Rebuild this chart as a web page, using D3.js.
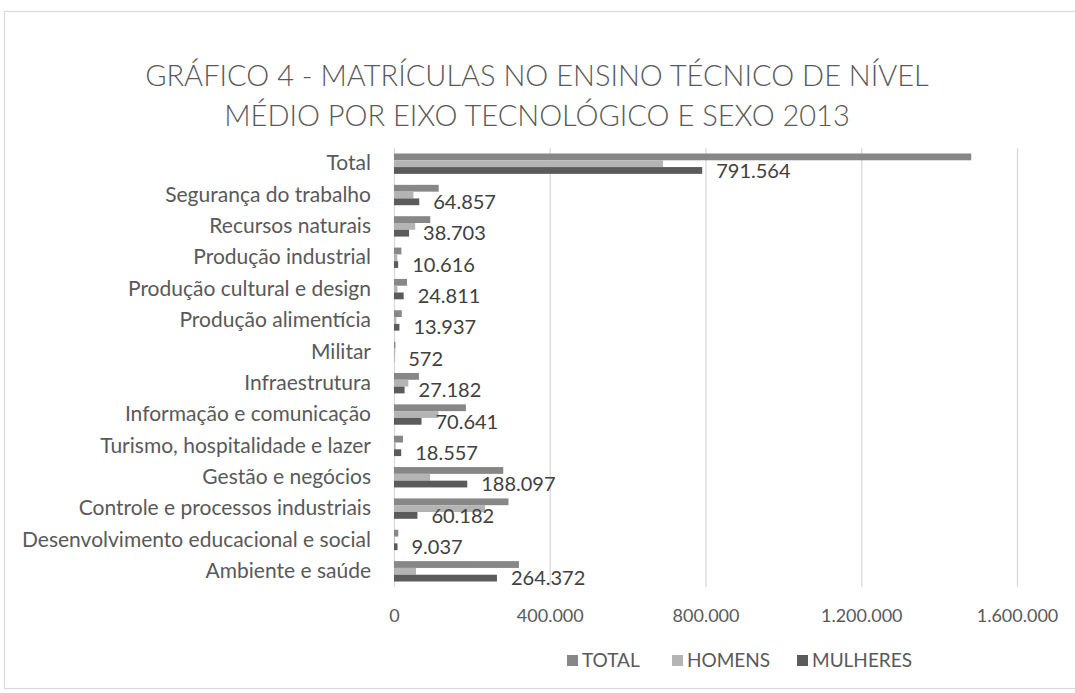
<!DOCTYPE html>
<html>
<head>
<meta charset="utf-8">
<script src="https://cdn.jsdelivr.net/npm/d3@7"></script>
<style>
  html, body { margin: 0; padding: 0; background: #ffffff; }
  svg { display: block; }
  text { font-family: Lato, "Open Sans", sans-serif; }
</style>
</head>
<body>
<svg id="chart" width="1075" height="693"></svg>
<script>
// ---- data ----
const categories = [
  "Total",
  "Segurança do trabalho",
  "Recursos naturais",
  "Produção industrial",
  "Produção cultural e design",
  "Produção alimentícia",
  "Militar",
  "Infraestrutura",
  "Informação e comunicação",
  "Turismo, hospitalidade e lazer",
  "Gestão e negócios",
  "Controle e processos industriais",
  "Desenvolvimento educacional e social",
  "Ambiente e saúde"
];
const totalValues   = [1482364, 114857, 93103, 19016, 33511, 19937, 3572, 63982, 184641, 23057, 280597, 293982, 11037, 320872];
const homensValues  = [690800, 50000, 54400, 8400, 8700, 6000, 3000, 36800, 114000, 4500, 92500, 233800, 2000, 56500];
const mulheresValues = [791564, 64857, 38703, 10616, 24811, 13937, 572, 27182, 70641, 18557, 188097, 60182, 9037, 264372];
const seriesNames = ["TOTAL", "HOMENS", "MULHERES"];
const xTicks = [0, 400000, 800000, 1200000, 1600000];
const titleLines = [
  "GRÁFICO 4 - MATRÍCULAS NO ENSINO TÉCNICO DE NÍVEL",
  "MÉDIO POR EIXO TECNOLÓGICO E SEXO 2013"
];

const colors = { TOTAL: "#878787", HOMENS: "#b4b4b4", MULHERES: "#5b5b5b" };
const seriesData = { TOTAL: totalValues, HOMENS: homensValues, MULHERES: mulheresValues };

const svg = d3.select("#chart");
const fmt = d3.formatLocale({ decimal: ",", thousands: ".", grouping: [3], currency: ["R$", ""] }).format(",d");

// chart border
svg.append("rect")
  .attr("x", 4.5).attr("y", 11.5)
  .attr("width", 1090).attr("height", 677)
  .attr("fill", "#fff").attr("stroke", "#d9d9d9").attr("stroke-width", 1.2);

// title
svg.append("g").selectAll("text").data(titleLines).join("text")
  .attr("x", 537)
  .attr("y", (d, i) => 86 + i * 40)
  .attr("text-anchor", "middle")
  .attr("fill", "#595959")
  .attr("font-size", 29)
  .attr("font-weight", 300)
  .text(d => d);

// scales
const x = d3.scaleLinear().domain([0, 1600000]).range([394, 1017]);
const y = d3.scaleBand().domain(categories).range([148, 587]).paddingInner(0.35).paddingOuter(0.175);
const ySub = d3.scaleBand().domain(seriesNames).range([0, y.bandwidth()]);

// gridlines
svg.append("g")
  .attr("transform", "translate(0,587)")
  .call(d3.axisBottom(x).tickValues(xTicks).tickSize(-(587 - 148)).tickFormat(""))
  .call(g => g.select(".domain").remove())
  .call(g => g.selectAll("line").attr("stroke", "#d9d9d9").attr("stroke-width", 1.3));

// tick labels
svg.append("g")
  .attr("transform", "translate(0,587)")
  .call(d3.axisBottom(x).tickValues(xTicks).tickSize(0).tickPadding(22).tickFormat(d => fmt(d)))
  .call(g => g.select(".domain").remove())
  .call(g => g.selectAll("text").attr("fill", "#595959").attr("font-size", 18).attr("font-family", "Lato, sans-serif"));

// category labels
svg.append("g")
  .attr("transform", "translate(394,0)")
  .call(d3.axisLeft(y).tickSize(0).tickPadding(23))
  .call(g => g.select(".domain").remove())
  .call(g => g.selectAll("text").attr("fill", "#595959").attr("font-size", 21).attr("font-family", "Lato, sans-serif"));

// bars
const rows = categories.map((c, i) => ({ cat: c, i }));
seriesNames.forEach(s => {
  svg.append("g").selectAll("rect").data(rows).join("rect")
    .attr("x", x(0))
    .attr("y", d => y(d.cat) + ySub(s))
    .attr("width", d => x(seriesData[s][d.i]) - x(0))
    .attr("height", ySub.bandwidth())
    .attr("fill", colors[s]);
});

// data labels for MULHERES
svg.append("g").selectAll("text").data(rows).join("text")
  .attr("x", d => x(mulheresValues[d.i]) + 14)
  .attr("y", d => y(d.cat) + ySub("MULHERES") + ySub.bandwidth() / 2)
  .attr("dy", "0.36em")
  .attr("fill", "#404040")
  .attr("font-size", 20)
  .text(d => fmt(mulheresValues[d.i]));

// legend
const legendItems = [
  { name: "TOTAL", x: 567 },
  { name: "HOMENS", x: 672 },
  { name: "MULHERES", x: 797 }
];
const lg = svg.append("g").selectAll("g").data(legendItems).join("g")
  .attr("transform", d => `translate(${d.x},660)`);
lg.append("rect").attr("x", 0).attr("y", -5).attr("width", 11).attr("height", 11).attr("fill", d => colors[d.name]);
lg.append("text").attr("x", 15).attr("y", 0).attr("dy", "0.36em")
  .attr("fill", "#595959").attr("font-size", 19).text(d => d.name);
</script>
</body>
</html>
